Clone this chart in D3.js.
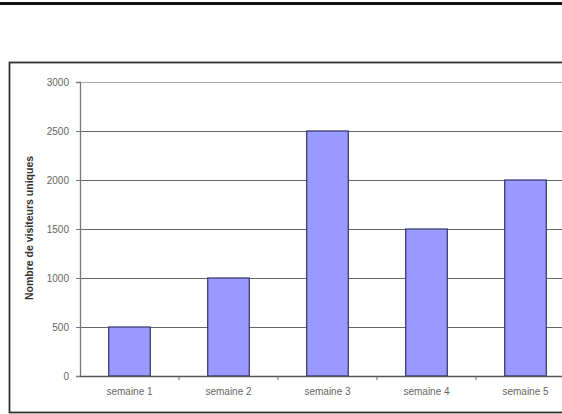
<!DOCTYPE html>
<html>
<head>
<meta charset="utf-8">
<script src="https://cdn.jsdelivr.net/npm/d3@7"></script>
<style>
  body { margin: 0; background: #fff; }
  svg { display: block; font-family: Arial, "Liberation Sans", sans-serif; }
</style>
</head>
<body>
<svg id="chart" width="562" height="414"></svg>
<script>
const categories = ["semaine 1", "semaine 2", "semaine 3", "semaine 4", "semaine 5"];
const visitors = [500, 1000, 2500, 1500, 2000];
const yTicks = [0, 500, 1000, 1500, 2000, 2500, 3000];
const yTitle = "Nombre de visiteurs uniques";

const svg = d3.select("#chart");

// top rule
svg.append("rect")
  .attr("x", 0).attr("y", 2)
  .attr("width", 562).attr("height", 3)
  .attr("fill", "#111");

// chart frame (runs off the right edge)
svg.append("rect")
  .attr("x", 9.5).attr("y", 62.5)
  .attr("width", 600).attr("height", 350)
  .attr("fill", "#fff")
  .attr("stroke", "#333")
  .attr("stroke-width", 1.8);

const x = d3.scaleBand()
  .domain(categories)
  .range([80, 575])
  .paddingInner(0.58)
  .paddingOuter(0.29);

const y = d3.scaleLinear().domain([0, 3000]).range([376, 82]);

// gridlines
svg.append("g")
  .selectAll("line")
  .data(yTicks.filter((d) => d > 0))
  .join("line")
  .attr("x1", 80).attr("x2", 562)
  .attr("y1", (d) => Math.round(y(d)) + 0.5)
  .attr("y2", (d) => Math.round(y(d)) + 0.5)
  .attr("stroke", (d) => (d === 3000 ? "#aaa" : "#666"))
  .attr("stroke-width", 1.2);

// bars
svg.append("g")
  .selectAll("rect")
  .data(visitors)
  .join("rect")
  .attr("x", (d, i) => x(categories[i]))
  .attr("y", (d) => y(d))
  .attr("width", x.bandwidth())
  .attr("height", (d) => y(0) - y(d))
  .attr("fill", "#9999ff")
  .attr("stroke", "#33336a")
  .attr("stroke-width", 1.2);

// y axis
const yAxis = svg.append("g")
  .attr("transform", "translate(80,0)")
  .call(d3.axisLeft(y).tickValues(yTicks).tickSize(4).tickPadding(7).tickFormat(d3.format("d")));
yAxis.select(".domain").attr("stroke", "#777").attr("stroke-width", 1.3);
yAxis.selectAll(".tick line").attr("stroke", "#777");
yAxis.selectAll("text").attr("font-size", 10).attr("fill", "#666");

// x axis
const xAxis = svg.append("g")
  .attr("transform", `translate(0,${y(0)})`)
  .call(d3.axisBottom(x).tickSize(0).tickPadding(12));
xAxis.select(".domain").attr("stroke", "#555").attr("stroke-width", 1.3);
xAxis.selectAll("text").attr("font-size", 10).attr("fill", "#666");

// category separator ticks
const step = x.step();
svg.append("g")
  .selectAll("line")
  .data(categories.slice(1))
  .join("line")
  .attr("x1", (d) => x(d) - x.paddingInner() * step / 2)
  .attr("x2", (d) => x(d) - x.paddingInner() * step / 2)
  .attr("y1", y(0)).attr("y2", y(0) + 4)
  .attr("stroke", "#666");

// y title
svg.append("text")
  .attr("transform", "translate(33,228) rotate(-90)")
  .attr("text-anchor", "middle")
  .attr("font-size", 10.5)
  .attr("font-weight", "bold")
  .attr("fill", "#333")
  .text(yTitle);
</script>
</body>
</html>
